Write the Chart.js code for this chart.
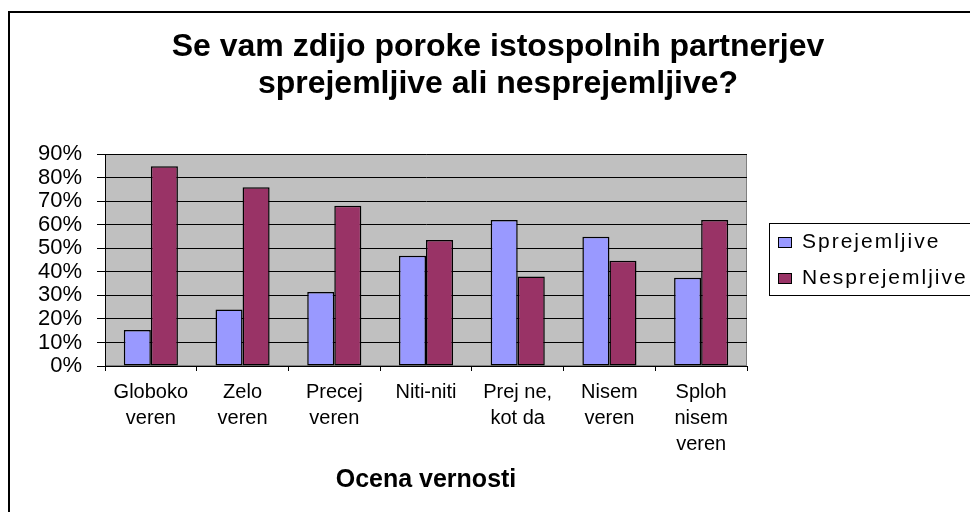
<!DOCTYPE html>
<html>
<head>
<meta charset="utf-8">
<script src="https://cdn.jsdelivr.net/npm/chart.js@4"></script>
<style>
  html, body { margin: 0; padding: 0; background: #fff; }
  #wrap { width: 970px; height: 512px; }
</style>
</head>
<body>
<div id="wrap"><canvas id="poroke" width="970" height="512"></canvas></div>
<script>
const categories = [
    ["Globoko", "veren"],
    ["Zelo", "veren"],
    ["Precej", "veren"],
    "Niti-niti",
    ["Prej ne,", "kot da"],
    ["Nisem", "veren"],
    ["Sploh", "nisem", "veren"]
];
const sprejemljive = [15.3, 24.0, 31.4, 46.8, 62.0, 54.9, 37.5];
const nesprejemljive = [84.8, 75.9, 68.0, 53.5, 38.0, 44.7, 62.0];
const titleLines = ["Se vam zdijo poroke istospolnih partnerjev", "sprejemljive ali nesprejemljive?"];
const xTitle = "Ocena vernosti";

Chart.defaults.font.family = '"Liberation Sans", Arial, sans-serif';
Chart.defaults.color = "#000";

// plot background, frame and the boxed legend (Excel style)
const excelLook = {
    id: "excelLook",
    beforeDraw(chart) {
        const { ctx, chartArea: a } = chart;
        ctx.save();
        ctx.fillStyle = "#c0c0c0";
        ctx.fillRect(a.left, a.top, a.right - a.left, a.bottom - a.top);
        ctx.strokeStyle = "#808080";
        ctx.lineWidth = 1;
        ctx.strokeRect(a.left + 0.5, a.top + 0.5, a.right - a.left - 1, a.bottom - a.top - 1);
        // outer frame (right and bottom sides are cut off)
        ctx.strokeStyle = "#000";
        ctx.lineWidth = 2;
        ctx.beginPath();
        ctx.moveTo(9, 520);
        ctx.lineTo(9, 12);
        ctx.lineTo(980, 12);
        ctx.stroke();
        ctx.restore();
    },
    afterDraw(chart) {
        const { ctx, chartArea: a } = chart;
        const mid = (a.top + a.bottom) / 2;
        const left = a.right + 22;
        ctx.save();
        ctx.strokeStyle = "#000";
        ctx.lineWidth = 1;
        ctx.strokeRect(left + 0.5, mid - 37 + 0.5, 300, 72);
        ctx.font = '21px "Liberation Sans", Arial, sans-serif';
        ctx.letterSpacing = "2px";
        ctx.textBaseline = "alphabetic";
        chart.data.datasets.forEach((ds, i) => {
            const base = mid - 12 + i * 36;
            ctx.fillStyle = ds.backgroundColor;
            ctx.fillRect(left + 9, base - 11, 14, 11);
            ctx.strokeRect(left + 9.5, base - 10.5, 13, 10);
            ctx.fillStyle = "#000";
            ctx.fillText(ds.label, left + 33, base);
        });
        ctx.restore();
    }
};

new Chart(document.getElementById("poroke"), {
    type: "bar",
    data: {
        labels: categories,
        datasets: [
            {
                label: "Sprejemljive",
                data: sprejemljive,
                backgroundColor: "#9999ff",
                borderColor: "#000",
                borderWidth: 1.5,
                borderSkipped: false,
                categoryPercentage: 0.59,
                barPercentage: 1
            },
            {
                label: "Nesprejemljive",
                data: nesprejemljive,
                backgroundColor: "#993366",
                borderColor: "#000",
                borderWidth: 1.5,
                borderSkipped: false,
                categoryPercentage: 0.59,
                barPercentage: 1
            }
        ]
    },
    options: {
        responsive: false,
        animation: false,
        layout: { padding: { left: 26, right: 0, top: 0, bottom: 0 } },
        plugins: {
            legend: { display: false },
            tooltip: { enabled: false },
            title: {
                display: true,
                text: titleLines,
                fullSize: true,
                color: "#000",
                font: { size: 32, weight: "bold", lineHeight: "37px" },
                padding: { top: 29, bottom: 51 }
            }
        },
        scales: {
            x: {
                grid: { drawOnChartArea: false, drawTicks: true, tickLength: 5, color: "#000", offset: true },
                border: { display: true, color: "#000", width: 1 },
                ticks: { font: { size: 20, lineHeight: 1.3 }, padding: 8, maxRotation: 0, autoSkip: false },
                title: {
                    display: true,
                    text: xTitle,
                    font: { size: 25, weight: "bold", lineHeight: 1.2 },
                    padding: { top: 0, bottom: 17 }
                },
                afterFit(s) { s.height = 146; }
            },
            y: {
                min: 0,
                max: 90,
                grid: { color: "#000", tickLength: 8 },
                border: { display: true, color: "#000", width: 1 },
                ticks: {
                    stepSize: 10,
                    autoSkip: false,
                    font: { size: 22, lineHeight: 0.95 },
                    padding: 15,
                    callback: v => v + "%"
                },
                afterFit(s) { s.width = 79; }
            },
            legendSpace: {
                type: "linear",
                position: "right",
                grid: { display: false },
                border: { display: false },
                ticks: { display: false },
                afterFit(s) { s.width = 223; }
            }
        }
    },
    plugins: [excelLook]
});
</script>
</body>
</html>
